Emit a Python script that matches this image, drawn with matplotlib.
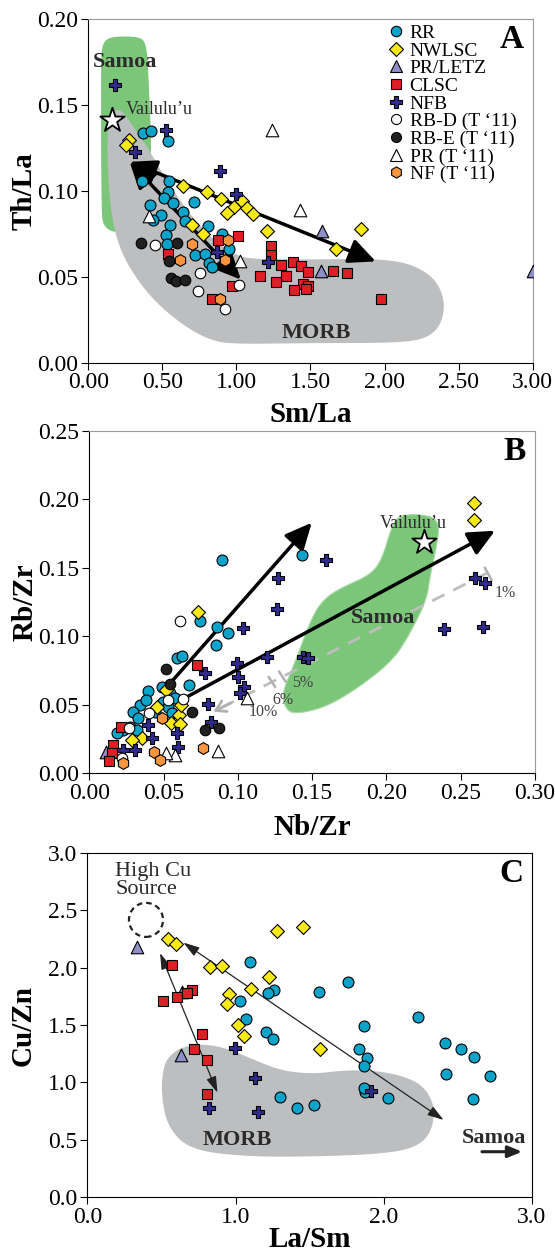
import matplotlib
matplotlib.use('Agg')
import numpy as np
import matplotlib.pyplot as plt
from matplotlib.patches import Polygon, Ellipse
from matplotlib.lines import Line2D

plt.rcParams['font.family'] = ['Liberation Serif', 'DejaVu Serif']

# ---------------- panel A : Th/La vs Sm/La ----------------
a_rr_x = [0.368, 0.422, 0.535, 0.363, 0.542, 0.535, 0.513, 0.570, 0.716, 0.415, 0.494, 0.439,
          0.642, 0.654, 0.554, 0.811, 0.523, 0.905, 0.530, 0.947, 0.721, 0.788, 0.816, 0.835]
a_rr_y = [0.134, 0.135, 0.129, 0.106, 0.106, 0.0994, 0.096, 0.093, 0.0936, 0.092, 0.0862, 0.0833,
          0.0878, 0.0828, 0.080, 0.0795, 0.0746, 0.075, 0.0692, 0.0663, 0.063, 0.0634, 0.058, 0.056]
a_nw_x = [0.272, 0.255, 0.637, 0.804, 0.895, 0.983, 1.038, 0.936, 1.072, 1.110, 0.702, 0.776, 1.205, 1.842, 1.671]
a_nw_y = [0.130, 0.127, 0.103, 0.0992, 0.0955, 0.0907, 0.094, 0.0872, 0.090, 0.0866, 0.080, 0.075, 0.077, 0.078, 0.0663]
a_letz_x = [1.575, 1.568, 3.0]
a_letz_y = [0.0766, 0.0533, 0.0533]
a_clsc_x = [1.009, 1.234, 1.234, 1.299, 1.380, 1.436, 1.481, 1.159, 1.335, 1.267, 1.448, 1.481,
            1.470, 1.389, 1.650, 1.749, 1.974, 0.968, 0.878, 0.540, 0.833]
a_clsc_y = [0.0737, 0.0679, 0.0626, 0.0568, 0.0584, 0.0566, 0.0529, 0.0504, 0.0504, 0.0471, 0.0461, 0.0446,
            0.0432, 0.0423, 0.0535, 0.0523, 0.0369, 0.0446, 0.0713, 0.0632, 0.037]
a_nfb_x = [0.179, 0.522, 0.313, 0.886, 1.0, 0.87, 1.215]
a_nfb_y = [0.1618, 0.1355, 0.123, 0.1115, 0.0982, 0.0645, 0.0587]
a_rbd_x = [0.452, 0.755, 0.738, 0.921, 1.018]
a_rbd_y = [0.0686, 0.052, 0.0417, 0.0314, 0.0455]
a_rbe_x = [0.356, 0.599, 0.545, 0.555, 0.595, 0.654]
a_rbe_y = [0.070, 0.070, 0.059, 0.0496, 0.0477, 0.0482]
a_pr_x = [1.241, 1.432, 1.026, 0.41]
a_pr_y = [0.1357, 0.0888, 0.0595, 0.0857]
a_nf_x = [0.703, 0.941, 0.618, 0.924, 0.887]
a_nf_y = [0.069, 0.0717, 0.060, 0.060, 0.0372]
a_vail = (0.160, 0.1415)
a_samoa_field = [(0.10, 0.079), (0.088, 0.09), (0.085, 0.175), (0.095, 0.186), (0.15, 0.19),
                 (0.33, 0.19), (0.39, 0.187), (0.405, 0.17), (0.43, 0.118), (0.40, 0.08), (0.2, 0.075)]
a_morb_field = [(0.15, 0.146), (0.22, 0.148), (0.30, 0.138), (0.38, 0.128), (0.43, 0.121), (0.55, 0.103),
                (0.70, 0.085), (0.85, 0.071), (1.0, 0.0625), (1.1, 0.0605), (1.4, 0.060), (1.8, 0.0605),
                (2.0, 0.060), (2.15, 0.058), (2.28, 0.053), (2.37, 0.045), (2.41, 0.033), (2.37, 0.02),
                (2.25, 0.013), (2.0, 0.0115), (1.6, 0.0115), (1.3, 0.0112), (1.0, 0.011), (0.84, 0.0125),
                (0.65, 0.021), (0.43, 0.037), (0.27, 0.056), (0.19, 0.072), (0.15, 0.09), (0.13, 0.114),
                (0.13, 0.135)]
a_arrows = [((0.279, 0.117), (1.03, 0.0484)), ((0.279, 0.117), (1.94, 0.059))]

# ---------------- panel B : Rb/Zr vs Nb/Zr ----------------
b_rr_x = [0.0891, 0.143, 0.0745, 0.0857, 0.0932, 0.0853, 0.0593, 0.0622, 0.0673, 0.0398, 0.0487, 0.0543,
          0.0577, 0.0341, 0.0382, 0.0498, 0.0532, 0.0296, 0.033, 0.0274, 0.0229, 0.0189, 0.0319, 0.0555, 0.0442]
b_rr_y = [0.156, 0.159, 0.111, 0.1065, 0.1026, 0.0936, 0.0838, 0.0855, 0.0643, 0.060, 0.0626, 0.0587,
          0.0546, 0.0497, 0.0534, 0.0521, 0.0485, 0.0448, 0.040, 0.0338, 0.0314, 0.029, 0.0314, 0.0436, 0.0448]
b_nw_x = [0.0734, 0.0517, 0.0454, 0.0606, 0.0548, 0.0611, 0.0357, 0.0285, 0.0617, 0.2588, 0.2588]
b_nw_y = [0.1175, 0.0607, 0.048, 0.0424, 0.0368, 0.0358, 0.0254, 0.0241, 0.0497, 0.1971, 0.185]
b_letz_x = [0.0112]
b_letz_y = [0.0156]
b_clsc_x = [0.0723, 0.0211, 0.0162, 0.0151, 0.0135]
b_clsc_y = [0.079, 0.0338, 0.0205, 0.0144, 0.009]
b_nfb_x = [0.1594, 0.1273, 0.1262, 0.1033, 0.1195, 0.0997, 0.1003, 0.1042, 0.1015, 0.0779, 0.0797, 0.082,
           0.0589, 0.060, 0.042, 0.0397, 0.0308, 0.0229, 0.1437, 0.1475, 0.2597, 0.2665, 0.239, 0.2649]
b_nfb_y = [0.1557, 0.1428, 0.1197, 0.1058, 0.085, 0.0802, 0.0704, 0.0631, 0.0583, 0.0729, 0.0504, 0.0375,
           0.029, 0.0192, 0.0254, 0.0351, 0.0168, 0.0168, 0.085, 0.0838, 0.1423, 0.1387, 0.1055, 0.1065]
b_rbd_x = [0.0611, 0.0532, 0.0633, 0.0404, 0.0269, 0.0218]
b_rbd_y = [0.1113, 0.0534, 0.0539, 0.0436, 0.0327, 0.0107]
b_rbe_x = [0.0517, 0.0543, 0.069, 0.0779, 0.0875]
b_rbe_y = [0.0758, 0.0651, 0.0444, 0.0314, 0.0331]
b_pr_x = [0.1064, 0.0869, 0.0577, 0.0517]
b_pr_y = [0.055, 0.0161, 0.0132, 0.0144]
b_nf_x = [0.0487, 0.0436, 0.0476, 0.0225, 0.0768]
b_nf_y = [0.040, 0.0156, 0.0095, 0.0071, 0.018]
b_vail = (0.2254, 0.169)
b_samoa_field = [(0.209, 0.189), (0.229, 0.1886), (0.2357, 0.1825), (0.2343, 0.168), (0.2294, 0.1435),
                 (0.2272, 0.1265), (0.216, 0.102), (0.2047, 0.0826), (0.1823, 0.0631), (0.1599, 0.0485),
                 (0.142, 0.0436), (0.133, 0.0448), (0.1295, 0.058), (0.1374, 0.0777), (0.1508, 0.1167),
                 (0.160, 0.129), (0.171, 0.136), (0.189, 0.1447), (0.197, 0.1557), (0.2036, 0.18)]
b_arrows = [((0.0548, 0.066), (0.1498, 0.183)), ((0.066, 0.0558), (0.2732, 0.1771))]
b_melt_line = [(0.2676, 0.146), (0.0835, 0.0448)]
b_melt_ticks = [((0.2664, 0.150), (0.2709, 0.141)), ((0.1209, 0.0700), (0.1251, 0.0630)),
                ((0.1279, 0.0740), (0.1321, 0.0670))]
b_melt_labels = [('1%', 0.280, 0.1318), ('5%', 0.1435, 0.0655), ('6%', 0.1305, 0.0535), ('10%', 0.1172, 0.0445)]

# ---------------- panel C : Cu/Zn vs La/Sm ----------------
c_rr_x = [1.099, 1.758, 1.564, 1.261, 1.222, 1.027, 2.231, 1.069, 1.864, 1.204, 1.256, 1.83, 1.886, 1.864,
          2.415, 2.523, 2.611, 2.42, 2.715, 2.6, 1.301, 1.414, 1.533, 1.875, 2.026, 1.87]
c_rr_y = [2.053, 1.879, 1.786, 1.806, 1.777, 1.71, 1.568, 1.553, 1.495, 1.437, 1.379, 1.291, 1.216, 1.143,
          1.346, 1.289, 1.224, 1.073, 1.058, 0.852, 0.875, 0.779, 0.803, 0.92, 0.867, 0.95]
c_nw_x = [0.543, 0.597, 1.283, 1.454, 0.828, 0.912, 1.229, 1.105, 0.957, 0.941, 1.02, 1.058, 1.571]
c_nw_y = [2.249, 2.208, 2.324, 2.359, 2.004, 2.019, 1.917, 1.815, 1.771, 1.684, 1.501, 1.408, 1.289]
c_letz_x = [0.334, 0.637, 0.633]
c_letz_y = [2.184, 1.786, 1.239]
c_clsc_x = [0.574, 0.509, 0.604, 0.705, 0.675, 0.774, 0.723, 0.806, 0.81]
c_clsc_y = [2.024, 1.71, 1.742, 1.806, 1.777, 1.422, 1.289, 1.195, 0.899]
c_nfb_x = [0.997, 1.132, 0.824, 1.15, 1.916]
c_nfb_y = [1.297, 1.041, 0.779, 0.745, 0.928]
c_morb_field = [(0.513, 1.137), (0.498, 0.905), (0.540, 0.614), (0.693, 0.410), (1.076, 0.352), (1.526, 0.352),
                (1.976, 0.375), (2.201, 0.425), (2.314, 0.541), (2.348, 0.759), (2.292, 0.934), (2.179, 1.036),
                (1.976, 1.099), (1.751, 1.108), (1.526, 1.073), (1.301, 1.102), (1.076, 1.224), (0.941, 1.297),
                (0.783, 1.335), (0.648, 1.312), (0.558, 1.239)]
c_arrows = [((0.648, 2.219), (2.404, 0.672)), ((0.491, 2.127), (0.878, 0.910))]
c_high_cu = (0.396, 2.417)

styles = {
    'RR': dict(marker='o', color='#0aa3c9', s=62),
    'NWLSC': dict(marker='D', color='#f9ea16', s=50),
    'PR/LETZ': dict(marker='^', color='#8e8ec9', s=82),
    'CLSC': dict(marker='s', color='#df1f26', s=58),
    'NFB': dict(marker='P', color='#2e2b8d', s=82),
    'RB-D (T \u201811)': dict(marker='o', color='white', s=58),
    'RB-E (T \u201811)': dict(marker='o', color='#202020', s=58),
    'PR (T \u201811)': dict(marker='^', color='white', s=82),
    'NF (T \u201811)': dict(marker='h', color='#f7953f', s=72),
}
groups = list(styles)

GREEN = '#7cc67a'
GREY = '#bcbec0'
TXT = '#2b2b2b'


def smooth(pts, n=3):
    p = np.asarray(pts, float)
    for _ in range(n):
        q = np.roll(p, -1, axis=0)
        p = np.column_stack([0.75 * p + 0.25 * q, 0.25 * p + 0.75 * q]).reshape(-1, 2)
    return p


def scatter_groups(ax, data):
    for name, (xs, ys) in zip(groups, data):
        if xs is None:
            continue
        st = styles[name]
        ax.scatter(xs, ys, marker=st['marker'], s=st['s'], facecolor=st['color'],
                   edgecolor='black', linewidth=0.8, zorder=5)


def frame(ax, light_top=True):
    for side in ['left', 'bottom']:
        ax.spines[side].set_color('black')
    for side in ['top', 'right']:
        ax.spines[side].set_color('#9a9a9a' if light_top else 'black')
    ax.tick_params(direction='out', length=5, width=0.8, labelsize=17, pad=2,
                   top=False, right=False)


def fat_arrow(ax, p0, p1, both=True):
    style = '<|-|>' if both else '-|>'
    ax.annotate('', xy=p1, xytext=p0,
                arrowprops=dict(arrowstyle=style + ',head_length=0.9,head_width=0.42',
                                mutation_scale=18, lw=2.5, color='black',
                                shrinkA=0, shrinkB=0), zorder=4)


fig = plt.figure(figsize=(5.55, 12.53), dpi=100)

# ---------------- A ----------------
ax = fig.add_axes([0.1591, 0.7105, 0.8007, 0.2741])
ax.add_patch(Polygon(smooth(a_samoa_field), closed=True, facecolor=GREEN, edgecolor='none', zorder=1))
ax.add_patch(Polygon(smooth(a_morb_field), closed=True, facecolor=GREY, edgecolor='none', zorder=2))
for p0, p1 in a_arrows:
    fat_arrow(ax, p0, p1, both=True)
scatter_groups(ax, [(a_rr_x, a_rr_y), (a_nw_x, a_nw_y), (a_letz_x, a_letz_y), (a_clsc_x, a_clsc_y),
                    (a_nfb_x, a_nfb_y), (a_rbd_x, a_rbd_y), (a_rbe_x, a_rbe_y), (a_pr_x, a_pr_y),
                    (a_nf_x, a_nf_y)])
ax.scatter([a_vail[0]], [a_vail[1]], marker='*', s=340, facecolor='white', edgecolor='black',
           linewidth=1.3, zorder=6)
ax.text(a_vail[0] + 0.09, a_vail[1] + 0.006, 'Vailulu\u2019u', fontsize=13, color=TXT, va='center', zorder=7)
ax.text(0.245, 0.175, 'Samoa', fontsize=16, fontweight='bold', color=TXT, ha='center', va='center', zorder=7)
ax.text(1.54, 0.0174, 'MORB', fontsize=16, fontweight='bold', color=TXT, ha='center', va='center', zorder=7)
ax.text(0.98, 0.94, 'A', transform=ax.transAxes, fontsize=24, fontweight='bold', ha='right', va='center')
ax.set_xlim(0, 3.0)
ax.set_ylim(0, 0.20)
ax.set_xticks(np.arange(0, 3.01, 0.5))
ax.set_xticklabels(['%.2f' % v for v in np.arange(0, 3.01, 0.5)])
ax.set_yticks(np.arange(0, 0.201, 0.05))
ax.set_yticklabels(['%.2f' % v for v in np.arange(0, 0.201, 0.05)])
ax.set_xlabel('Sm/La', fontsize=21, fontweight='bold')
ax.set_ylabel('Th/La', fontsize=21, fontweight='bold')
ax.xaxis.set_label_coords(0.5, -0.11)
ax.yaxis.set_label_coords(-0.115, 0.5)
frame(ax)

handles = [Line2D([], [], linestyle='none', marker=styles[g]['marker'],
                  markersize=np.sqrt(styles[g]['s']) * 0.95, markerfacecolor=styles[g]['color'],
                  markeredgecolor='black', markeredgewidth=0.8) for g in groups]
leg = ax.legend(handles, groups, loc='upper left', bbox_to_anchor=(0.675, 0.985), frameon=False,
                fontsize=14, handlelength=0.8, handletextpad=0.3, labelspacing=0.0, borderpad=0,
                borderaxespad=0)
leg.set_zorder(8)

# ---------------- B ----------------
ax = fig.add_axes([0.1609, 0.3831, 0.8027, 0.2729])
ax.add_patch(Polygon(smooth(b_samoa_field), closed=True, facecolor=GREEN, edgecolor='#a8dba6',
                     linewidth=0.8, zorder=1))
mx, my = zip(*b_melt_line)
ax.plot(mx, my, color='#bdbdbd', lw=2, dashes=(5, 3.5), zorder=2)
ax.annotate('', xy=b_melt_line[1], xytext=(0.095, 0.051),
            arrowprops=dict(arrowstyle='->,head_length=0.5,head_width=0.3', color='#b0b0b0', lw=2,
                            mutation_scale=14, shrinkA=0, shrinkB=0), zorder=2)
for p0, p1 in b_melt_ticks:
    ax.plot([p0[0], p1[0]], [p0[1], p1[1]], color='#b0b0b0', lw=1.8, zorder=2)
for lab, lx, ly in b_melt_labels:
    ax.text(lx, ly, lab, fontsize=11.5, color='#444444', ha='center', va='center', zorder=7)
for p0, p1 in b_arrows:
    fat_arrow(ax, p0, p1, both=False)
scatter_groups(ax, [(b_rr_x, b_rr_y), (b_nw_x, b_nw_y), (b_letz_x, b_letz_y), (b_clsc_x, b_clsc_y),
                    (b_nfb_x, b_nfb_y), (b_rbd_x, b_rbd_y), (b_rbe_x, b_rbe_y), (b_pr_x, b_pr_y),
                    (b_nf_x, b_nf_y)])
ax.scatter([b_vail[0]], [b_vail[1]], marker='*', s=340, facecolor='white', edgecolor='black',
           linewidth=1.3, zorder=6)
ax.text(0.2182, 0.1825, 'Vailulu\u2019u', fontsize=13, color=TXT, ha='center', va='center', zorder=7)
ax.text(0.198, 0.113, 'Samoa', fontsize=16, fontweight='bold', color=TXT, ha='center', va='center', zorder=7)
ax.text(0.98, 0.94, 'B', transform=ax.transAxes, fontsize=24, fontweight='bold', ha='right', va='center')
ax.set_xlim(0, 0.30)
ax.set_ylim(0, 0.25)
ax.set_xticks(np.arange(0, 0.301, 0.05))
ax.set_xticklabels(['%.2f' % v for v in np.arange(0, 0.301, 0.05)])
ax.set_yticks(np.arange(0, 0.251, 0.05))
ax.set_yticklabels(['%.2f' % v for v in np.arange(0, 0.251, 0.05)])
ax.set_xlabel('Nb/Zr', fontsize=21, fontweight='bold')
ax.set_ylabel('Rb/Zr', fontsize=21, fontweight='bold')
ax.xaxis.set_label_coords(0.5, -0.12)
ax.yaxis.set_label_coords(-0.115, 0.5)
frame(ax)

# ---------------- C ----------------
ax = fig.add_axes([0.1573, 0.0447, 0.8011, 0.2745])
ax.add_patch(Polygon(smooth(c_morb_field), closed=True, facecolor=GREY, edgecolor='none', zorder=1))
for p0, p1 in c_arrows:
    ax.annotate('', xy=p1, xytext=p0,
                arrowprops=dict(arrowstyle='<|-|>,head_length=0.7,head_width=0.22', mutation_scale=14,
                                lw=0.9, color='#222222', shrinkA=0, shrinkB=0), zorder=4)
scatter_groups(ax, [(c_rr_x, c_rr_y), (c_nw_x, c_nw_y), (c_letz_x, c_letz_y), (c_clsc_x, c_clsc_y),
                    (c_nfb_x, c_nfb_y), (None, None), (None, None), (None, None), (None, None)])
ax.add_patch(Ellipse(c_high_cu, width=0.23, height=0.297, facecolor='none', edgecolor='#222222',
                     linestyle=(0, (2.5, 1.8)), linewidth=1.6, zorder=3))
ax.text(0.188, 2.76, 'High Cu\nSource', fontsize=16, color=TXT, ha='left', va='center',
        linespacing=0.98, zorder=7)
ax.text(1.013, 0.497, 'MORB', fontsize=16, fontweight='bold', color=TXT, ha='center', va='center', zorder=7)
ax.text(2.741, 0.512, 'Samoa', fontsize=16, fontweight='bold', color=TXT, ha='center', va='center', zorder=7)
ax.annotate('', xy=(2.933, 0.395), xytext=(2.663, 0.395),
            arrowprops=dict(arrowstyle='-|>,head_length=0.6,head_width=0.25', mutation_scale=14,
                            lw=2.2, color='#222222', shrinkA=0, shrinkB=0), zorder=7)
ax.text(0.98, 0.94, 'C', transform=ax.transAxes, fontsize=24, fontweight='bold', ha='right', va='center')
ax.set_xlim(0, 3.0)
ax.set_ylim(0, 3.0)
ax.set_xticks([0, 1, 2, 3])
ax.set_xticklabels(['0.0', '1.0', '2.0', '3.0'])
ax.set_yticks(np.arange(0, 3.01, 0.5))
ax.set_yticklabels(['%.1f' % v for v in np.arange(0, 3.01, 0.5)])
ax.set_xlabel('La/Sm', fontsize=21, fontweight='bold')
ax.set_ylabel('Cu/Zn', fontsize=21, fontweight='bold')
ax.xaxis.set_label_coords(0.5, -0.085)
ax.yaxis.set_label_coords(-0.115, 0.5)
frame(ax, light_top=False)

fig.savefig('out.png', dpi=100)
